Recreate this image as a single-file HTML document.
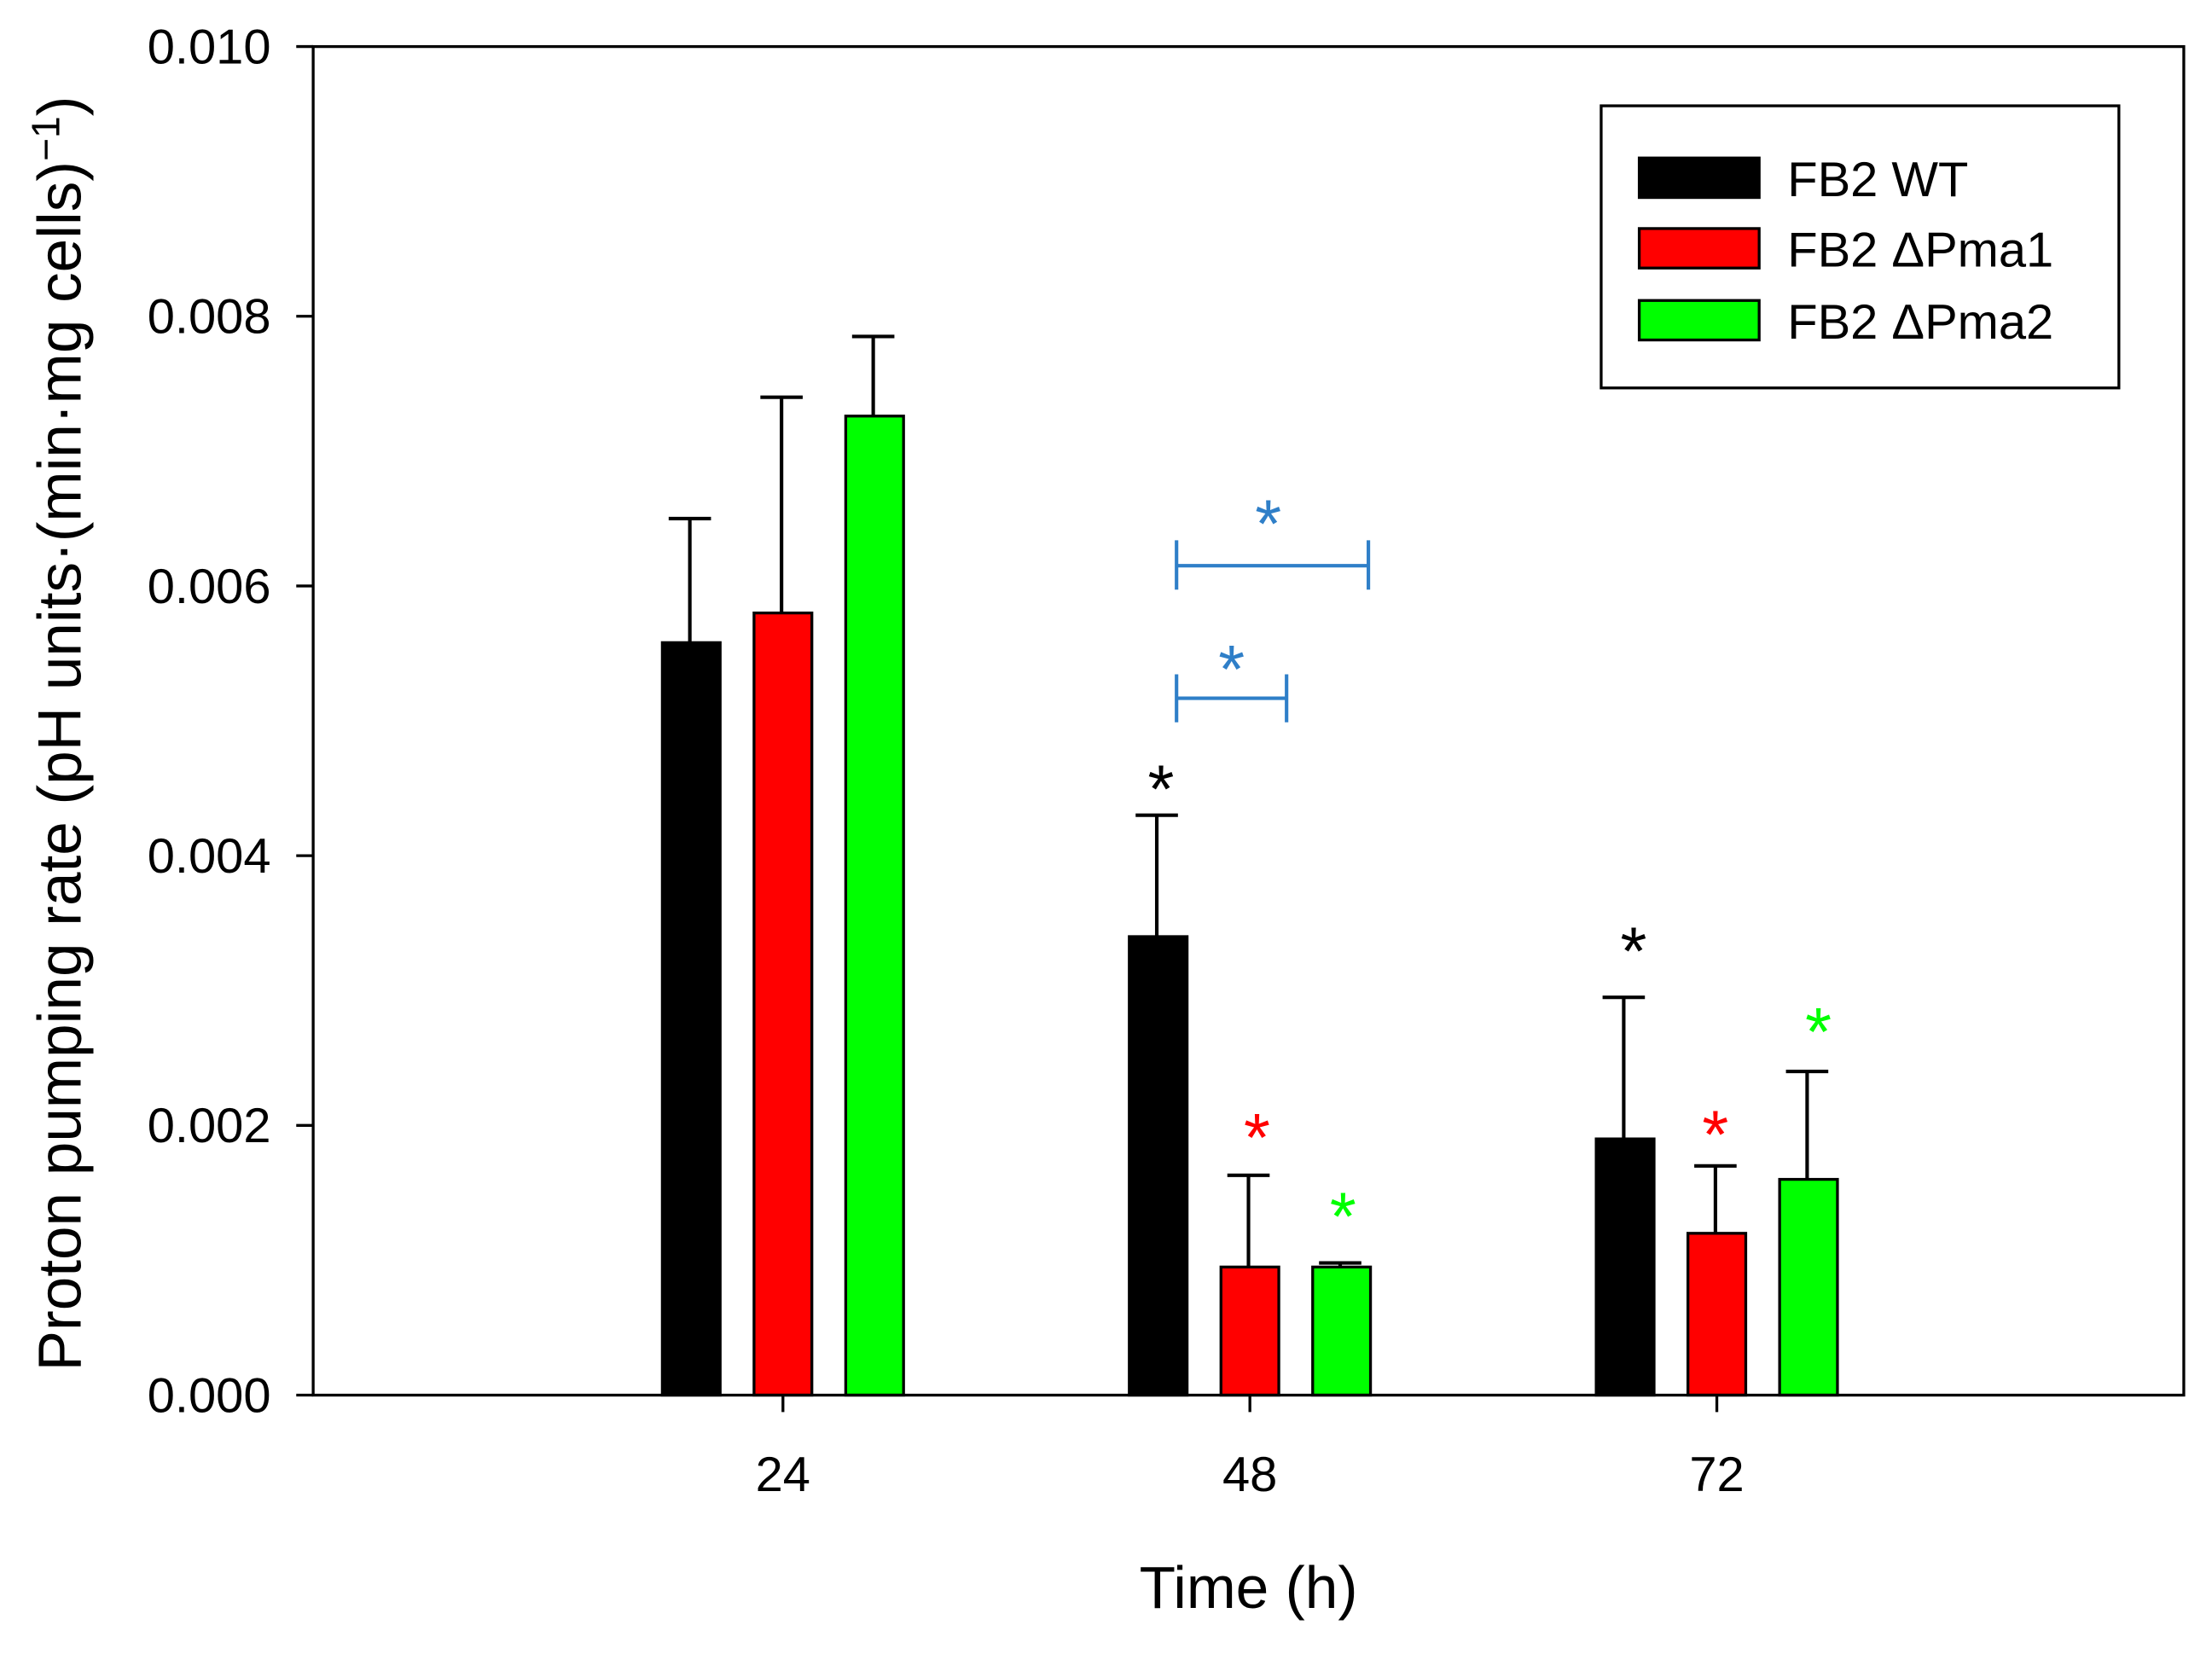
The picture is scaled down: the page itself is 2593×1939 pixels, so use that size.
<!DOCTYPE html>
<html><head><meta charset="utf-8"><style>
html,body{margin:0;padding:0;background:#fff}
svg{display:block}
text{font-family:"Liberation Sans",Arial,sans-serif}
</style></head><body>
<svg id="chart" width="2593" height="1939" viewBox="0 0 1568 1172.5" xmlns="http://www.w3.org/2000/svg">
<rect x="0" y="0" width="1568" height="1172.5" fill="#fff"/>
<g id="plot"></g>
<rect x="222" y="33" width="1326" height="956" fill="none" stroke="#000" stroke-width="2"/>
<text transform="translate(57,520) rotate(-90)" text-anchor="middle" font-size="43">Proton pumping rate (pH units·(min·mg cells)<tspan dy="-15" font-size="28">−1</tspan><tspan dy="15">)</tspan></text>
<text x="885" y="1140" text-anchor="middle" font-size="42">Time (h)</text>
<g>
<rect x="1135" y="75" width="367" height="200" fill="#fff" stroke="#000" stroke-width="2"/>
<rect x="1162" y="112" width="85" height="28" fill="#000" stroke="#000" stroke-width="2"/>
<text x="1267" y="139" font-size="35">FB2 WT</text>
<rect x="1162" y="162" width="85" height="28" fill="#ff0000" stroke="#000" stroke-width="2"/>
<text x="1267" y="189" font-size="35">FB2 ΔPma1</text>
<rect x="1162" y="213" width="85" height="28" fill="#00ff00" stroke="#000" stroke-width="2"/>
<text x="1267" y="240" font-size="35">FB2 ΔPma2</text>
</g>
<g stroke="#2f7fc8" stroke-width="2.5" fill="none">
<path d="M834 401H970M834 383V418M970 383V418"/>
<path d="M834 495H912M834 478V512M912 478V512"/>
</g>
<g font-size="48" text-anchor="middle">
<text x="899" y="388" fill="#2f7fc8">*</text>
<text x="873" y="491" fill="#2f7fc8">*</text>
<text x="823" y="576" fill="#000">*</text>
<text x="1158" y="691" fill="#000">*</text>
<text x="891" y="823" fill="#ff0000">*</text>
<text x="1216" y="821" fill="#ff0000">*</text>
<text x="952" y="879" fill="#00ff00">*</text>
<text x="1289" y="748" fill="#00ff00">*</text>
</g>
</svg>
<script>
const categories = ["24", "48", "72"];
const seriesNames = ["FB2 WT", "FB2 ΔPma1", "FB2 ΔPma2"];
const wtValues = [0.00558, 0.0034, 0.0019];
const pma1Values = [0.0058, 0.00095, 0.0012];
const pma2Values = [0.00726, 0.00095, 0.0016];
const wtErrTop = [0.0065, 0.0043, 0.00295];
const pma1ErrTop = [0.0074, 0.00163, 0.0017];
const pma2ErrTop = [0.00785, 0.00098, 0.0024];
const yTicks = [0, 0.002, 0.004, 0.006, 0.008, 0.010];
const yTickLabels = ["0.000", "0.002", "0.004", "0.006", "0.008", "0.010"];

const NS = "http://www.w3.org/2000/svg";
const plot = document.getElementById("plot");
const y = v => 989 - v / 0.010 * 956;
const xCenter = i => 555 + i * 331;
const colors = ["#000", "#ff0000", "#00ff00"];
const vals = [wtValues, pma1Values, pma2Values];
const errs = [wtErrTop, pma1ErrTop, pma2ErrTop];
const keys = ["wt", "pma1", "pma2"];
function mk(tag, attrs) { const e = document.createElementNS(NS, tag); for (const k in attrs) e.setAttribute(k, attrs[k]); plot.appendChild(e); return e; }

yTicks.forEach((t, i) => {
  const l = mk("line", {x1: 210, x2: 222, y1: y(t), y2: y(t), stroke: "#000", "stroke-width": 2});
  
  
  const tx = mk("text", {x: 192, y: y(t) + 12, "text-anchor": "end", "font-size": 35});
  tx.textContent = yTickLabels[i];
  
  
});
categories.forEach((c, i) => {
  const cx = xCenter(i);
  const l = mk("line", {x1: cx, x2: cx, y1: 989, y2: 1001, stroke: "#000", "stroke-width": 2});
  
  
  const tx = mk("text", {x: cx, y: 1057, "text-anchor": "middle", "font-size": 35});
  tx.textContent = c;
  
  
  for (let s = 0; s < 3; s++) {
    const bx = cx + (s - 1) * 65 - 1;
    const e = mk("path", {d: `M${bx} ${y(vals[s][i])}V${y(errs[s][i])}M${bx - 15} ${y(errs[s][i])}H${bx + 15}`, stroke: "#000", "stroke-width": 2.5, fill: "none"});
    
    
    const r = mk("rect", {x: bx + 1 - 20.5, y: y(vals[s][i]), width: 41, height: 989 - y(vals[s][i]), fill: colors[s], stroke: "#000", "stroke-width": 2});
    
    
  }
});
</script>
</body></html>
